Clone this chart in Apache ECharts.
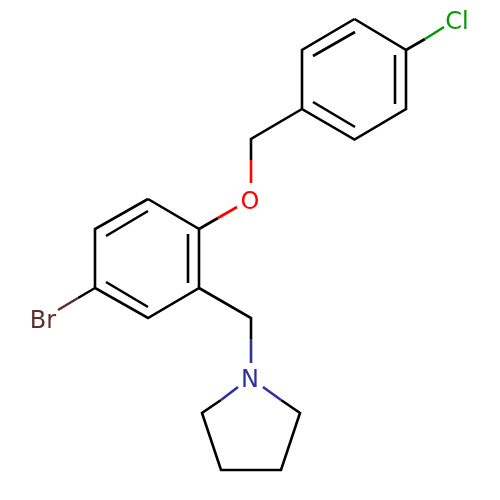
<!DOCTYPE html>
<html>
<head>
<meta charset="utf-8">
<style>html,body{margin:0;padding:0;background:#fff}#c{width:500px;height:500px}</style>
<script src="https://cdn.jsdelivr.net/npm/echarts@6/dist/echarts.min.js"></script>
</head>
<body>
<div id="c"></div>
<script>
// Each entry is a polyline in picture units (0-500, y downwards)
const blackBonds = [
  [[354.5,19],[406,50],[406,109],[354.5,139.5],[302,109],[302,50],[354.5,19]],
  [[313,56],[355,32]],
  [[395,55],[395,104]],
  [[313,102],[355,127]],
  [[302,109],[251,139],[251,160]],
  [[406,50],[425,39]],
  [[148,199],[199,229],[199,288],[148,318],[95,288],[95,229],[148,199]],
  [[106,236],[148,211]],
  [[188,234],[188,283]],
  [[106,282],[148,307]],
  [[199,229],[218,218]],
  [[95,288],[78,298]],
  [[199,288],[251,318],[251,339]],
  [[221,400],[202,413],[221,470],[281,470],[300,413],[281,400]]
];
const redBonds = [
  [[251,160],[251,183]],
  [[218,218],[237,207]]
];
const greenBonds = [[[425,39],[444,27]]];
const brownBonds = [[[78,298],[58,310]]];
const blueBonds = [
  [[251,339],[251,363]],
  [[238,387],[221,400]],
  [[263,387],[281,400]]
];
const atomLabels = [
  {name:'Cl', value:[457,23], color:'#009900'},
  {name:'O',  value:[250,203], color:'#ff0000'},
  {name:'Br', value:[43,322], color:'#5e2e2e'},
  {name:'N',  value:[250,381], color:'#30309e'}
];

function bondSeries(list, color){
  const data = [];
  list.forEach(function(p){ p.forEach(function(q){data.push(q);}); data.push([null,null]); });
  return {type:'line', data:data, showSymbol:false, connectNulls:false, animation:false, silent:true,
    lineStyle:{color:color,width:2.6,cap:'butt',join:'miter'}};
}
const chart = echarts.init(document.getElementById('c'), null, {renderer:'canvas'});
chart.setOption({
  backgroundColor:'#ffffff',
  animation:false,
  grid:{left:0,right:0,top:0,bottom:0},
  xAxis:{type:'value',min:0,max:500,show:false},
  yAxis:{type:'value',min:0,max:500,inverse:true,show:false},
  series:[
    bondSeries(blackBonds,'#000000'),
    bondSeries(redBonds,'#ff0000'),
    bondSeries(greenBonds,'#009900'),
    bondSeries(brownBonds,'#5e2e2e'),
    bondSeries(blueBonds,'#30309e'),
    {type:'scatter',symbolSize:1,itemStyle:{color:'transparent',opacity:1},silent:true,animation:false,
     data:atomLabels.map(function(a){return {
       name:a.name,value:a.value,
       label:{show:true,position:'inside',formatter:a.name,color:a.color,opacity:1,
         fontFamily:'DejaVu Sans',fontSize:24,align:'center',verticalAlign:'middle'}
     };})}
  ]
});
</script>
</body>
</html>
